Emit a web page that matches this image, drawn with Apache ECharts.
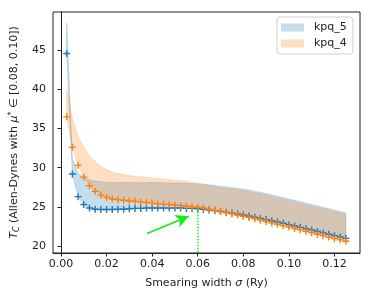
<!DOCTYPE html>
<html><head><meta charset="utf-8">
<script src="https://cdn.jsdelivr.net/npm/echarts@6/dist/echarts.min.js"></script>
<style>html,body{margin:0;padding:0;background:#fff}#c{width:374px;height:294px}</style>
</head><body><div id="c"></div>
<script>
const sigma = [0.0025,0.005,0.0075,0.01,0.0125,0.015,0.0175,0.02,0.0225,0.025,
  0.0275,0.03,0.0325,0.035,0.0375,0.04,0.0425,0.045,0.0475,0.05,
  0.0525,0.055,0.0575,0.06,0.0625,0.065,0.0675,0.07,0.0725,0.075,
  0.0775,0.08,0.0825,0.085,0.0875,0.09,0.0925,0.095,0.0975,0.1,
  0.1025,0.105,0.1075,0.11,0.1125,0.115,0.1175,0.12,0.1225,0.125];
// kpq_5 (blue): markers = lower edge of band, upper edge of band
const kpq5Tc = [44.6,29.2,26.3,25.3,24.85,24.7,24.65,24.65,24.65,24.7,
  24.7,24.75,24.8,24.8,24.85,24.85,24.85,24.85,24.85,24.85,
  24.85,24.8,24.8,24.75,24.67,24.6,24.5,24.4,24.3,24.2,
  24.08,23.95,23.82,23.68,23.52,23.37,23.22,23.06,22.9,22.72,
  22.55,22.38,22.2,22.03,21.85,21.67,21.5,21.32,21.14,20.97];
const kpq5High = [48.5,31.2,29.3,28.8,28.45,28.3,28.2,28.15,28.12,28.1,
  28.1,28.1,28.1,28.1,28.1,28.1,28.1,28.08,28.06,28.04,
  28.02,28.0,27.97,27.93,27.87,27.8,27.72,27.64,27.55,27.46,
  27.37,27.27,27.14,27.0,26.85,26.7,26.53,26.35,26.18,26.0,
  25.83,25.65,25.48,25.3,25.13,24.95,24.78,24.6,24.4,24.2];
// kpq_4 (orange)
const kpq4Tc = [36.5,32.6,30.3,28.8,27.7,27.0,26.5,26.2,26.0,25.9,
  25.85,25.75,25.7,25.6,25.55,25.5,25.4,25.35,25.3,25.2,
  25.15,25.1,25.02,24.95,24.85,24.7,24.55,24.4,24.25,24.1,
  23.95,23.8,23.65,23.48,23.3,23.12,22.95,22.78,22.6,22.42,
  22.24,22.06,21.88,21.7,21.5,21.32,21.14,20.96,20.78,20.6];
const kpq4High = [40.0,36.3,34.0,32.6,31.5,30.8,30.2,29.75,29.45,29.25,
  29.1,29.0,28.92,28.85,28.78,28.7,28.63,28.55,28.48,28.4,
  28.32,28.24,28.15,28.05,27.9,27.75,27.58,27.46,27.36,27.27,
  27.17,27.07,26.94,26.8,26.65,26.5,26.33,26.15,25.98,25.8,
  25.63,25.45,25.28,25.1,24.93,24.75,24.58,24.4,24.2,24.0];
const xTicks = [0,0.02,0.04,0.06,0.08,0.10,0.12];
const yTicks = [20,25,30,35,40,45];
const arrowTail = [0.0378, 21.6];
const arrowHead = [0.0561, 23.8];
const guideX = 0.06, guideTop = 24.75, guideBottom = 19.1;

const BLUE = '#1f77b4', ORANGE = '#ff7f0e';
const BLUE_A = 'rgba(31,119,180,0.25)', ORANGE_A = 'rgba(255,127,14,0.25)';
const PLUS = 'path://M4,0H6V4H10V6H6V10H4V6H0V4H4Z';
const FONT = 'DejaVu Sans';

function band(name, lo, hi, color) {
  return {
    type: 'custom', name: name, coordinateSystem: 'cartesian2d', silent: true, z: 1,
    itemStyle: {color: color},
    data: sigma.map((x, i) => [x, lo[i], hi[i]]),
    encode: {x: 0, y: [1, 2]},
    renderItem: function (params, api) {
      if (params.dataIndex !== 0) return null;
      const pts = [];
      for (let i = 0; i < sigma.length; i++) pts.push(api.coord([sigma[i], hi[i]]));
      for (let i = sigma.length - 1; i >= 0; i--) pts.push(api.coord([sigma[i], lo[i]]));
      return {type: 'polygon', shape: {points: pts}, style: {fill: color, stroke: color, lineWidth: 0.8}};
    }
  };
}

const chart = echarts.init(document.getElementById('c'), null, {renderer: 'canvas'});
chart.setOption({
  animation: false,
  backgroundColor: '#fff',
  grid: {left: 52, right: 14, top: 12, bottom: 40, show: true, borderColor: '#222', borderWidth: 1},
  legend: {
    orient: 'vertical', left: 277, top: 17,
    data: [
      {name: 'kpq_5', icon: 'rect', itemStyle: {color: BLUE_A}},
      {name: 'kpq_4', icon: 'rect', itemStyle: {color: ORANGE_A}}
    ],
    itemWidth: 23, itemHeight: 8, itemGap: 5,
    padding: [5, 6, 5, 4], borderColor: '#d0d0d0', borderWidth: 1, borderRadius: 3,
    backgroundColor: 'rgba(255,255,255,0.8)',
    textStyle: {fontSize: 11, fontFamily: FONT, color: '#222', padding: [0, 0, 0, 5]}
  },
  xAxis: {
    type: 'value', min: -0.0035, max: 0.1312,
    name: 'Smearing width {i|σ} (Ry)', nameLocation: 'middle', nameGap: 25,
    nameTextStyle: {fontSize: 11, fontFamily: FONT, color: '#222', rich: {i: {fontStyle: 'italic', fontSize: 11, fontFamily: FONT}}},
    axisLine: {show: true, lineStyle: {color: '#222', width: 1}},
    axisTick: {show: true, length: 3.5, lineStyle: {color: '#222'}, customValues: xTicks},
    axisLabel: {fontSize: 11, fontFamily: FONT, color: '#222', margin: 6, customValues: xTicks,
      formatter: v => v.toFixed(2)},
    splitLine: {show: false}
  },
  yAxis: {
    type: 'value', min: 19.1, max: 49.9,
    name: '{i|T}{sub|C} (Allen-Dynes with {i|μ}{sup|*} ∈ [0.08, 0.10])',
    nameLocation: 'middle', nameGap: 32,
    nameTextStyle: {fontSize: 11, fontFamily: FONT, color: '#222', rich: {
      i: {fontStyle: 'italic', fontSize: 11, fontFamily: FONT},
      sub: {fontStyle: 'italic', fontSize: 8, fontFamily: FONT, padding: [5, 0, 0, 0]},
      sup: {fontSize: 8, fontFamily: FONT, padding: [0, 0, 5, 0]}
    }},
    axisLine: {show: true, lineStyle: {color: '#222', width: 1}},
    axisTick: {show: true, length: 3.5, lineStyle: {color: '#222'}, customValues: yTicks},
    axisLabel: {fontSize: 11, fontFamily: FONT, color: '#222', margin: 7, customValues: yTicks},
    splitLine: {show: false}
  },
  series: [
    band('kpq_5', kpq5Tc, kpq5High, BLUE_A),
    band('kpq_4', kpq4Tc, kpq4High, ORANGE_A),
    {
      type: 'scatter', name: 'kpq_5 Tc', symbol: PLUS, symbolSize: 7, z: 3,
      itemStyle: {color: BLUE, opacity: 1},
      data: sigma.map((x, i) => [x, kpq5Tc[i]]),
      markLine: {
        silent: true, animation: false, label: {show: false},
        symbol: ['none', 'none'],
        lineStyle: {color: '#11ee11', width: 1.5, type: 'dotted'},
        data: [[{coord: [guideX, guideTop]}, {coord: [guideX, guideBottom]}]]
      }
    },
    {
      type: 'scatter', name: 'kpq_4 Tc', symbol: PLUS, symbolSize: 7, z: 4,
      itemStyle: {color: ORANGE, opacity: 1},
      data: sigma.map((x, i) => [x, kpq4Tc[i]]),
      markLine: {
        silent: true, animation: false, label: {show: false},
        symbol: ['none', 'arrow'], symbolSize: [10, 13],
        lineStyle: {color: '#11ee11', width: 1.5, type: 'solid'},
        data: [[{coord: arrowTail}, {coord: arrowHead}]]
      }
    }
  ]
});
</script>
</body></html>
